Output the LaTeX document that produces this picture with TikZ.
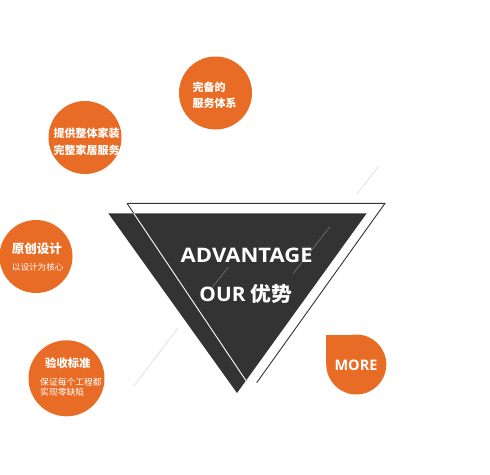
\documentclass[tikz,border=0pt]{standalone}
\usepackage{fontspec}
\setmainfont{Open Sans}
\newfontfamily\cjk{Noto Sans CJK SC}
\definecolor{orng}{RGB}{232,108,37}
\definecolor{tri}{RGB}{51,51,51}
\definecolor{faint}{RGB}{221,221,221}
\definecolor{midgray}{RGB}{110,110,110}
\tikzset{
  circ/.style={circle, fill=orng, inner sep=0pt},
  txt/.style={text=white, inner sep=0pt, anchor=west},
  faintline/.style={draw=faint, line width=0.7pt},
  inline/.style={draw=midgray, line width=0.7pt},
}
\begin{document}
\begin{tikzpicture}[x=1pt,y=-1pt]
\useasboundingbox[fill=white] (0,0) rectangle (490,474);
% faint decorative lines
\draw[faintline] (378.3,166.7) -- (356.7,194.3);
\draw[faintline] (178,328) -- (133.3,386.7);
% outline triangle (dark parts)
\coordinate (A) at (127,203.3);
\coordinate (B) at (385,203.3);
\coordinate (L) at (246.7,381.7);
\coordinate (R) at (256.7,382.7);
\draw[tri, line width=0.9pt] (A) -- (B) -- (R);
\draw[tri, line width=0.9pt] (A) -- (L);
% filled triangle
\fill[tri] (108.3,213.3) -- (366.7,213.3) -- (237,393) -- cycle;
% white part of left side
\draw[white, line width=0.9pt] (133.7,213.3) -- (L);
% inner grey lines
\draw[inline] (330,226.7) -- (293.3,273.3);
\draw[inline] (228.3,267.3) -- (210,290);
% title text
\node[text=white, inner sep=0pt, font=\bfseries\fontsize{20}{22}\selectfont] (t1) at (246.7,255) {\scalebox{1.1}[1]{ADVANTAGE}};
\node[text=white, inner sep=0pt, font=\fontsize{20}{22}\selectfont] (t2) at (246,294) {\scalebox{1.04}[1]{\bfseries OUR {\cjk\bfseries 优势}}};
% circle 1
\node[circ, minimum size=73pt] (c1) at (215.5,93) {};
\node[txt, font=\cjk\bfseries\fontsize{11}{13}\selectfont] (c1a) at (192.5,87) {完备的};
\node[txt, font=\cjk\bfseries\fontsize{11}{13}\selectfont] (c1b) at (192.5,103) {服务体系};
% circle 2
\node[circ, minimum size=73pt] (c2) at (85,137.5) {};
\node[txt, font=\cjk\bfseries\fontsize{11}{13}\selectfont] (c2a) at (53.3,133.3) {提供整体家装};
\node[txt, font=\cjk\bfseries\fontsize{11}{13}\selectfont] (c2b) at (53.3,150) {完整家居服务};
% circle 3
\node[circ, minimum size=73pt] (c3) at (36,256.5) {};
\node[txt, font=\cjk\bfseries\fontsize{12.5}{14}\selectfont] (c3a) at (11.7,248.3) {原创设计};
\node[txt, font=\cjk\fontsize{8.6}{10}\selectfont] (c3b) at (11.7,267) {以设计为核心};
% circle 4
\node[circ, minimum size=76pt] (c4) at (66.5,378.3) {};
\node[txt, font=\cjk\bfseries\fontsize{11.3}{13}\selectfont] (c4a) at (45,362.7) {验收标准};
\node[txt, font=\cjk\fontsize{8.8}{10}\selectfont] (c4b) at (40,382.5) {保证每个工程都};
\node[txt, font=\cjk\fontsize{8.8}{10}\selectfont] (c4c) at (40,392) {实现零缺陷};
% MORE
\node[circ, minimum size=60pt] (m) at (356.3,364.5) {};
\fill[orng] (326.3,334.5) rectangle (356.3,364.5);
\node[text=white, inner sep=0pt, font=\bfseries\fontsize{14.5}{16}\selectfont] (mt) at (356,365) {MORE};
\end{tikzpicture}
\end{document}
